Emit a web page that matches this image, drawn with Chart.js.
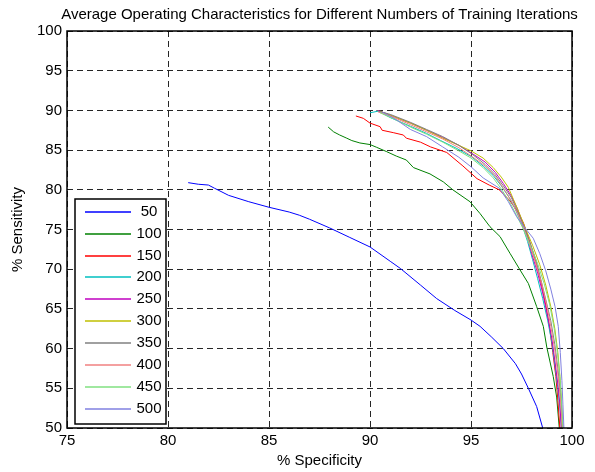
<!DOCTYPE html>
<html>
<head>
<meta charset="utf-8">
<title>Average Operating Characteristics</title>
<script src="https://cdn.jsdelivr.net/npm/chart.js@4.4.0/dist/chart.umd.min.js"></script>
<style>
  html, body { margin: 0; padding: 0; background: #fff; }
  canvas { display: block; }
</style>
</head>
<body>
<canvas id="rocChart" width="595" height="472"></canvas>
<script>
// number of training iterations (one curve each)
const iterations = ['50', '100', '150', '200', '250', '300', '350', '400', '450', '500']
const lineColors = ['#0000ff', '#008000', '#ff0000', '#00bfbf', '#bf00bf', '#bfbf00', '#808080', '#f08080', '#80e080', '#8080e0']

const xTicks = [75, 80, 85, 90, 95, 100]
const yTicks = [50, 55, 60, 65, 70, 75, 80, 85, 90, 95, 100]

// % specificity / % sensitivity
const spec50 = [81.0, 81.5, 82.0, 82.3, 83.0, 84.0, 85.0, 86.0, 86.5, 87.0, 88.0, 89.0, 90.0, 91.0, 91.5, 92.5, 93.3, 94.2, 95.0, 95.45, 96.0, 96.6, 97.2, 97.5, 97.84, 98.25, 98.55]
const sens50 = [80.9, 80.7, 80.6, 80.2, 79.3, 78.5, 77.8, 77.2, 76.8, 76.3, 75.2, 74.0, 72.8, 71.0, 70.1, 68.0, 66.3, 64.8, 63.6, 62.8, 61.5, 60.0, 58.1, 56.8, 55.0, 52.7, 50.0]

const spec100 = [87.93, 88.2, 88.5, 88.85, 89.1, 89.5, 90.0, 90.33, 90.83, 91.3, 91.8, 92.15, 92.97, 93.63, 94.1, 94.95, 95.45, 95.94, 96.44, 96.93, 97.43, 97.84, 98.25, 98.58, 98.75, 99.07, 99.24, 99.37]
const sens100 = [87.9, 87.3, 86.9, 86.5, 86.2, 85.9, 85.7, 85.35, 84.8, 84.25, 83.75, 82.8, 82.0, 81.0, 80.0, 78.5, 77.0, 75.35, 74.1, 72.0, 69.9, 68.2, 65.3, 62.8, 60.2, 56.5, 53.9, 50.0]

const spec150 = [89.3, 89.67, 90.0, 90.5, 90.6, 91.15, 91.65, 91.8, 92.5, 93.0, 93.8, 94.6, 95.3, 95.9, 96.4, 96.9, 97.3, 97.6, 97.9, 98.2, 98.45, 98.7, 98.9, 99.05, 99.2, 99.3, 99.4]
const sens150 = [89.3, 89.0, 88.4, 87.95, 87.5, 87.2, 86.9, 86.5, 86.0, 85.4, 84.7, 83.0, 81.4, 80.6, 80.0, 78.7, 77.3, 75.8, 73.5, 71.0, 68.5, 65.5, 62.5, 59.5, 56.5, 53.5, 50.0]

const spec200 = [90.0, 90.4, 91.0, 92.0, 92.8, 93.5, 94.3, 95.0, 95.6, 96.1, 96.5, 96.9, 97.2, 97.5, 97.8, 98.05, 98.3, 98.55, 98.8, 99.0, 99.15, 99.3, 99.4, 99.48]
const sens200 = [89.7, 89.9, 89.1, 88.0, 87.1, 86.2, 85.2, 84.2, 83.0, 81.8, 80.5, 79.0, 77.5, 75.8, 73.5, 71.2, 68.8, 66.3, 63.5, 60.8, 58.0, 55.0, 52.5, 50.0]

const spec250 = [90.4, 91.0, 92.0, 92.8, 93.6, 94.4, 95.1, 95.7, 96.2, 96.6, 97.0, 97.3, 97.55, 97.8, 98.0, 98.3, 98.55, 98.8, 99.0, 99.15, 99.3, 99.4, 99.47]
const sens250 = [90.0, 89.4, 88.4, 87.5, 86.6, 85.6, 84.5, 83.5, 82.2, 80.8, 79.2, 77.6, 75.9, 74.0, 72.0, 69.5, 67.0, 64.0, 61.3, 58.5, 55.5, 53.0, 50.0]

const spec300 = [90.5, 91.2, 92.0, 92.8, 93.6, 94.4, 95.0, 95.6, 96.1, 96.5, 96.85, 97.1, 97.4, 97.7, 98.05, 98.4, 98.7, 98.95, 99.15, 99.3, 99.4, 99.48, 99.52]
const sens300 = [89.9, 89.2, 88.4, 87.5, 86.5, 85.6, 84.9, 84.0, 82.8, 81.6, 80.3, 78.8, 77.0, 75.1, 73.0, 70.6, 68.0, 65.3, 62.5, 59.5, 56.5, 53.5, 50.0]

const spec350 = [90.3, 91.0, 92.0, 92.8, 93.6, 94.4, 95.1, 95.7, 96.2, 96.6, 97.0, 97.3, 97.6, 97.9, 98.2, 98.45, 98.7, 98.95, 99.15, 99.3, 99.42, 99.5, 99.55]
const sens350 = [90.0, 89.5, 88.5, 87.6, 86.7, 85.6, 84.4, 83.2, 81.9, 80.5, 79.0, 77.3, 75.5, 73.5, 71.3, 68.8, 66.2, 63.5, 60.5, 57.5, 54.5, 52.0, 50.0]

const spec400 = [90.4, 91.1, 92.0, 92.8, 93.6, 94.4, 95.1, 95.7, 96.2, 96.6, 97.0, 97.3, 97.6, 97.9, 98.2, 98.5, 98.75, 98.95, 99.15, 99.3, 99.42, 99.5, 99.52]
const sens400 = [89.8, 89.2, 88.2, 87.3, 86.4, 85.3, 84.1, 83.0, 81.7, 80.2, 78.6, 77.0, 75.2, 73.1, 70.8, 68.2, 65.5, 62.8, 59.8, 56.8, 53.8, 51.0, 50.0]

const spec450 = [90.5, 91.2, 92.0, 92.8, 93.6, 94.4, 95.0, 95.6, 96.1, 96.5, 96.9, 97.25, 97.6, 97.95, 98.3, 98.62, 98.9, 99.12, 99.28, 99.4, 99.48, 99.55]
const sens450 = [89.7, 88.9, 87.9, 87.0, 86.0, 84.9, 84.0, 82.8, 81.5, 80.1, 78.5, 76.8, 75.0, 72.9, 70.7, 68.2, 65.5, 62.5, 59.5, 56.5, 53.5, 50.0]

const spec500 = [90.6, 91.2, 92.0, 92.8, 93.6, 94.4, 95.0, 95.6, 96.4, 96.85, 97.26, 97.67, 98.08, 98.4, 98.7, 98.95, 99.16, 99.32, 99.42, 99.5, 99.55, 99.6]
const sens500 = [89.8, 89.0, 87.6, 86.7, 85.4, 84.1, 82.9, 81.5, 80.2, 78.5, 76.6, 75.2, 73.9, 72.0, 69.8, 67.5, 65.3, 62.8, 59.5, 56.0, 53.0, 50.0]

const specSeries = [spec50, spec100, spec150, spec200, spec250, spec300, spec350, spec400, spec450, spec500]
const sensSeries = [sens50, sens100, sens150, sens200, sens250, sens300, sens350, sens400, sens450, sens500]

const FONT = '"Liberation Sans", Arial, Helvetica, sans-serif'

// zip each spec/sens pair into points for the scatter-with-lines chart
const datasets = iterations.map((label, i) => ({
  label: label,
  data: specSeries[i].map((x, j) => ({ x: x, y: sensSeries[i][j] })),
  borderColor: lineColors[i],
  backgroundColor: lineColors[i],
  borderWidth: 1,
  pointRadius: 0,
  showLine: true,
  tension: 0,
  order: iterations.length - i
}))

// title, axis labels, box and the legend inside the axes
const decorPlugin = {
  id: 'decor',
  afterDraw(chart) {
    const ctx = chart.ctx
    const area = chart.chartArea
    ctx.save()

    ctx.strokeStyle = '#000'
    ctx.lineWidth = 1.5
    ctx.strokeRect(area.left, area.top, area.right - area.left, area.bottom - area.top)

    ctx.fillStyle = '#000'
    ctx.font = '15px ' + FONT
    ctx.textAlign = 'center'
    ctx.textBaseline = 'middle'
    const midX = (area.left + area.right) / 2
    ctx.fillText('Average Operating Characteristics for Different Numbers of Training Iterations', midX, 15)
    ctx.fillText('% Specificity', midX, 461)

    ctx.save()
    ctx.translate(18, (area.top + area.bottom) / 2)
    ctx.rotate(-Math.PI / 2)
    ctx.fillText('% Sensitivity', 0, 0)
    ctx.restore()

    // legend box
    const box = { x: 75, y: 199, w: 91, h: 225 }
    ctx.fillStyle = '#fff'
    ctx.fillRect(box.x, box.y, box.w, box.h)
    ctx.strokeStyle = '#000'
    ctx.lineWidth = 1.5
    ctx.strokeRect(box.x, box.y, box.w, box.h)

    ctx.lineWidth = 1.6
    iterations.forEach((label, i) => {
      const y = Math.round(211.7 + i * 21.9)
      ctx.strokeStyle = lineColors[i]
      ctx.beginPath()
      ctx.moveTo(85, y)
      ctx.lineTo(131, y)
      ctx.stroke()
      ctx.fillStyle = '#000'
      ctx.fillText(label, 149, y)
    })

    ctx.restore()
  }
}

const ctx = document.getElementById('rocChart')
const chart = new Chart(ctx, {
  type: 'scatter',
  data: { datasets: datasets },
  options: {
    responsive: false,
    animation: false,
    devicePixelRatio: 1,
    layout: { padding: { top: 31, right: 23, left: 0, bottom: 0 } },
    plugins: {
      legend: { display: false },
      tooltip: { enabled: false },
      title: { display: false }
    },
    scales: {
      x: {
        type: 'linear',
        min: 75,
        max: 100,
        afterFit: (scale) => { scale.height = 44 },
        afterBuildTicks: (scale) => { scale.ticks = xTicks.map(v => ({ value: v })) },
        grid: { color: 'rgba(0,0,0,0.85)', lineWidth: 1, drawTicks: false },
        border: { display: false, dash: [6, 4] },
        ticks: { color: '#000', font: { family: FONT, size: 15 }, padding: 4, autoSkip: false, maxRotation: 0 }
      },
      y: {
        type: 'linear',
        min: 50,
        max: 100,
        afterFit: (scale) => { scale.width = 67 },
        afterBuildTicks: (scale) => { scale.ticks = yTicks.map(v => ({ value: v })) },
        grid: { color: 'rgba(0,0,0,0.85)', lineWidth: 1, drawTicks: false },
        border: { display: false, dash: [6, 4] },
        ticks: { color: '#000', font: { family: FONT, size: 15 }, padding: 5, autoSkip: false }
      }
    }
  },
  plugins: [decorPlugin]
})
</script>
</body>
</html>
